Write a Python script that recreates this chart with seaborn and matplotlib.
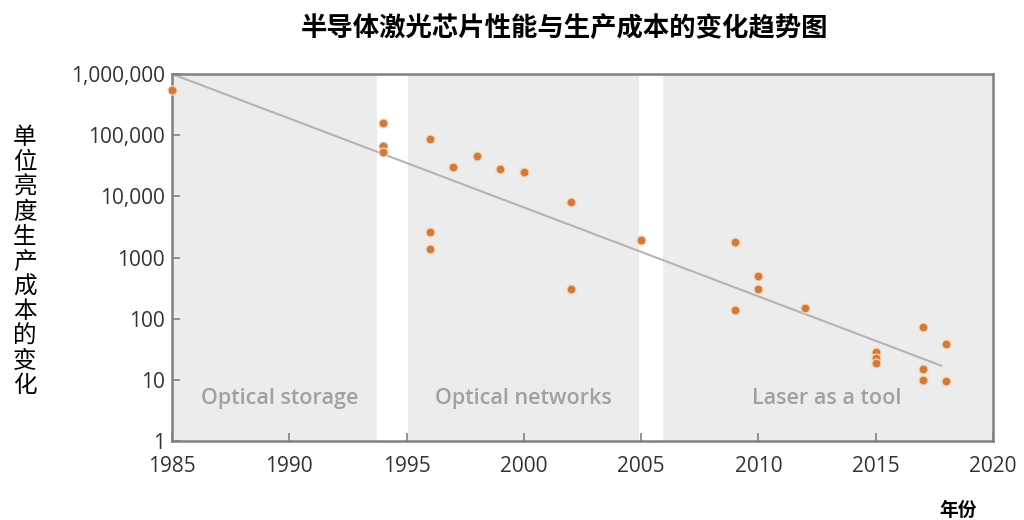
import matplotlib
matplotlib.use("Agg")
import matplotlib.pyplot as plt
import matplotlib.ticker as mticker
import seaborn as sns
import pandas as pd
import numpy as np

# ---- data ----
years = [1985, 1994, 1994, 1994, 1996, 1996, 1996, 1997, 1998, 1999, 2000,
         2002, 2002, 2005, 2009, 2009, 2010, 2010, 2012,
         2015, 2015, 2015, 2017, 2017, 2017, 2018, 2018]
costs = [550000, 160000, 66000, 54000, 86000, 2600, 1400, 30000, 45000, 28000, 25000,
         8200, 300, 1950, 1770, 140, 490, 307, 150,
         29, 23, 19, 74, 15, 10, 38, 9.5]
trend_years = [1985, 2017.8]
trend_costs = [1000000, 17]
eras = ["Optical storage", "Optical networks", "Laser as a tool"]
era_start = [1985, 1995.05, 2005.95]
era_end = [1993.75, 2004.9, 2020]
era_label_x = [1989.6, 2000.0, 2012.9]
ytick_vals = [1, 10, 100, 1000, 10000, 100000, 1000000]
ytick_labels = ["1", "10", "100", "1000", "10,000", "100,000", "1,000,000"]
xtick_vals = [1985, 1990, 1995, 2000, 2005, 2010, 2015, 2020]

title = "半导体激光芯片性能与生产成本的变化趋势图"
ylabel = "单位亮度生产成本的变化"
xlabel = "年份"

df = pd.DataFrame({"year": years, "cost": costs})
trend = pd.DataFrame({"year": trend_years, "cost": trend_costs})

sns.set_theme(style="white")
plt.rcParams["font.family"] = ["Open Sans", "Noto Sans CJK SC", "DejaVu Sans"]

fig = plt.figure(figsize=(10.24, 5.2), dpi=100)
ax = fig.add_axes([172 / 1024, 1 - 441 / 520, (993 - 172) / 1024, (441 - 74) / 520])

for s, e in zip(era_start, era_end):
    ax.axvspan(s, e, color="#ececec", lw=0, zorder=0)

sns.lineplot(data=trend, x="year", y="cost", ax=ax, color="#b4b4b4", lw=1.5, zorder=2)
sns.scatterplot(data=df, x="year", y="cost", ax=ax, color="#d27a3a", s=42,
                edgecolor="#f6d6b8", linewidth=0.9, zorder=3, clip_on=False)

ax.set_yscale("log")
ax.set_xlim(1985, 2020)
ax.set_ylim(1, 1000000)
ax.set_yticks(ytick_vals)
ax.set_yticklabels(ytick_labels)
ax.yaxis.set_minor_locator(mticker.NullLocator())
ax.set_xticks(xtick_vals)
ax.tick_params(axis="both", direction="in", length=6, width=1.2, color="#808080",
               labelsize=15, labelcolor="#333333", left=True, bottom=True)
ax.tick_params(axis="y", pad=5)
ax.tick_params(axis="x", pad=11)
ax.set_xlabel("")
ax.set_ylabel("")

for sp in ax.spines.values():
    sp.set_color("#808080")
    sp.set_linewidth(1.8)
    sp.set_visible(True)

for name, xx in zip(eras, era_label_x):
    ax.text(xx, 5.0, name, ha="center", va="center", fontsize=15.5,
            color="#a0a0a0", fontweight="semibold", zorder=1)

fig.text(565 / 1024, 1 - 28 / 520, title, ha="center", va="center", fontsize=19,
         fontweight="bold", family=["Noto Sans CJK SC", "DejaVu Sans"], color="black")
fig.text(25 / 1024, 1 - 262 / 520, "\n".join(ylabel), ha="center", va="center",
         fontsize=17, linespacing=1.1, family=["Noto Sans CJK SC", "DejaVu Sans"],
         color="black")
fig.text(958 / 1024, 1 - 510 / 520, xlabel, ha="center", va="center", fontsize=13.5,
         fontweight="bold", family=["Noto Sans CJK SC", "DejaVu Sans"], color="black")

fig.savefig("out.png", dpi=100)
